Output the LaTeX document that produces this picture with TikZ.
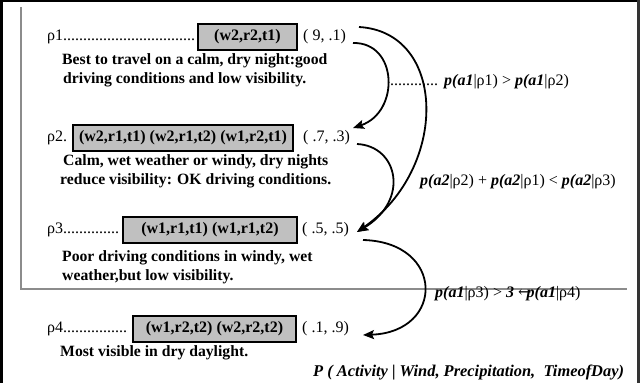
\documentclass[tikz,border=0pt]{standalone}
\usepackage{fontspec}
\setmainfont{Liberation Serif}
\newfontfamily\arrowfont{DejaVu Serif}
\usetikzlibrary{arrows.meta,calc}
\definecolor{boxgray}{RGB}{192,192,192}
\definecolor{framegray}{RGB}{140,140,140}
\newcommand\bi[1]{\textbf{\textit{#1}}}
\newcommand\dotlabel[2]{\makebox[#1][l]{#2\leaders\hbox{.}\hfill}}
\begin{document}
\begin{tikzpicture}[x=1pt,y=-1pt,
  body/.style={anchor=west,inner sep=0pt,font=\fontsize{15.7}{19}\selectfont\bfseries},
  lbl/.style={anchor=west,inner sep=0pt,font=\fontsize{16}{19}\selectfont},
  gbox/.style={draw=black,line width=2pt,fill=boxgray,minimum height=26pt,inner sep=0pt,font=\fontsize{16}{19}\selectfont\bfseries},
  conn/.style={line width=1.8pt,-{Stealth[length=11pt,width=9pt,inset=2pt]}},
  frameline/.style={draw=framegray,line width=2pt}]
\useasboundingbox (0,0) rectangle (640,383);
\fill[white] (0,0) rectangle (640,383);
% outer black frame
\fill[black] (0,0) rectangle (3,383);
\fill[black] (0,0) rectangle (640,2);
\fill[black!80] (637,0) rectangle (640,383);
% gray frame
\draw[frameline] (21,7) -- (21,289) -- (627,289);

% row 1
\node[lbl] (r1) at (47,37) {\dotlabel{148pt}{ρ1}};
\node[gbox,minimum width=99pt] (b1) at (247.5,37) {(w2,r2,t1)};
\node[lbl] (v1) at (303,37) {( 9, .1)};
\node[body] (d1a) at (62,61) {Best to travel on a calm, dry night:good};
\node[body] (d1b) at (63,80) {driving conditions and low visibility.};
% row 2
\node[lbl] (r2) at (47,138) {ρ2.};
\node[gbox,minimum width=220pt] (b2) at (183,138) {(w2,r1,t1) (w2,r1,t2) (w1,r2,t1)};
\node[lbl] (v2) at (303,138) {( .7, .3)};
\node[body] (d2a) at (63,162) {Calm, wet weather or windy, dry nights};
\node[body] (d2b) at (60,181) {reduce visibility: OK driving conditions.};
% row 3
\node[lbl] (r3) at (47,230) {\dotlabel{73pt}{ρ3}};
\node[gbox,minimum width=174pt] (b3) at (210,230) {(w1,r1,t1) (w1,r1,t2)};
\node[lbl] (v3) at (302,230) {( .5, .5)};
\node[body] (d3a) at (62,258) {Poor driving conditions in windy, wet};
\node[body] (d3b) at (62,277) {weather,but low visibility.};
% row 4
\node[lbl] (r4) at (47,329) {\dotlabel{83pt}{ρ4}};
\node[gbox,minimum width=163pt] (b4) at (214.5,329) {(w1,r2,t2) (w2,r2,t2)};
\node[lbl] (v4) at (302,329) {( .1, .9)};
\node[body] (d4a) at (60,353) {Most visible in dry daylight.};

% formulas
\node[lbl] (f1) at (390,82) {............\hspace{6pt}\bi{p(a1}|ρ1) > \bi{p(a1}|ρ2)};
\node[lbl] (f2) at (420,182) {\bi{p(a2}|ρ2) + \bi{p(a2}|ρ1) < \bi{p(a2}|ρ3)};
\node[lbl] (f3) at (435,294) {\bi{p(a1}|ρ3) > \bi{3} {\arrowfont ←}\kern-0.3em\bi{p(a1}|ρ4)};
\node[lbl,font=\fontsize{16.4}{19}\selectfont\bfseries\itshape] (f4) at (313,372) {P ( Activity | Wind, Precipitation,\ \ TimeofDay)};

% connector end points
\coordinate (as) at ($(v1.west)+(50,6)$);
\coordinate (bs) at ($(v1.west)+(56,-10)$);
\coordinate (ae) at ($(v2.west)+(50,-10)$);
\coordinate (cs) at ($(v2.west)+(54,6)$);
\coordinate (be) at ($(v3.west)+(55,2)$);
\coordinate (ds) at ($(v3.west)+(61,10)$);
\coordinate (de) at ($(v4.west)+(61,6)$);

\draw[conn] (as) .. controls ($(as)+(45,-1)$) and ($(ae)+(47,-16)$) .. (ae);
\draw[conn] (bs) .. controls ($(bs)+(88,5)$) and ($(be)+(92,-64)$) .. (be);
\draw[conn] (cs) .. controls ($(cs)+(41,2)$) and ($(be)+(53,-32)$) .. (be);
\draw[conn] (ds) .. controls ($(ds)+(82,2)$) and ($(de)+(82,-3)$) .. (de);
\end{tikzpicture}
\end{document}
